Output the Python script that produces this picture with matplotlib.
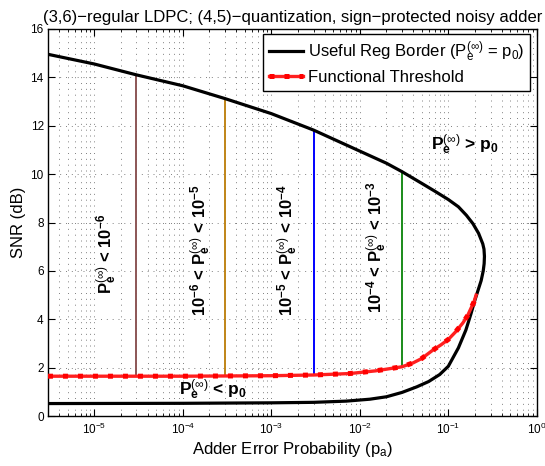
import matplotlib
matplotlib.use('Agg')
import matplotlib.pyplot as plt

plt.rcParams['font.family'] = ['Liberation Sans', 'DejaVu Sans']
plt.rcParams['mathtext.fontset'] = 'custom'
plt.rcParams['mathtext.rm'] = 'Liberation Sans'
plt.rcParams['mathtext.it'] = 'Liberation Sans:italic'
plt.rcParams['mathtext.bf'] = 'Liberation Sans:bold'

# useful region border: upper branch left -> right, then lower branch back to the left
border_pa = [3e-6, 1e-5, 3e-5, 1e-4, 3e-4, 1e-3, 3e-3, 1e-2, 2e-2, 3e-2, 5e-2, 7e-2,
             0.1, 0.13, 0.16, 0.19, 0.22, 0.245, 0.253, 0.256, 0.254,
             0.248, 0.235, 0.2, 0.18, 0.158, 0.13, 0.1, 0.08, 0.06, 0.044, 0.03, 0.02,
             0.013, 7e-3, 3e-3, 1e-3, 1e-4, 3e-6]
border_snr = [14.95, 14.55, 14.1, 13.65, 13.12, 12.5, 11.82, 10.95, 10.45, 10.1, 9.62, 9.3,
              8.95, 8.65, 8.3, 7.95, 7.55, 7.12, 6.9, 6.6, 6.3,
              6.0, 5.6, 4.8, 4.22, 3.56, 2.82, 2.06, 1.72, 1.43, 1.21, 0.98, 0.8,
              0.7, 0.62, 0.57, 0.55, 0.53, 0.52]

# functional threshold
thr_pa = [3e-6, 1e-4, 1e-3, 3e-3, 7.7e-3, 1.5e-2, 3e-2, 4e-2, 5e-2, 6.7e-2, 8.3e-2,
          0.1, 0.12, 0.146, 0.165, 0.18, 0.195, 0.206]
thr_snr = [1.65, 1.65, 1.67, 1.70, 1.76, 1.87, 2.04, 2.2, 2.38, 2.73, 2.95,
           3.17, 3.47, 3.85, 4.15, 4.45, 4.72, 5.0]

# vertical separators between the P_e regions
sep_pa = [3e-5, 3e-4, 3e-3, 3e-2]
sep_low = [1.65, 1.65, 1.70, 2.04]
sep_high = [14.1, 13.12, 11.82, 10.1]
sep_colors = ['#8c5656', '#c08518', '#0000ff', '#1a8c1a']

# region labels (rotated)
reg_labels = [r'$\mathbf{P}_\mathbf{e}^{(\infty)}$ < $\mathbf{10^{-6}}$',
              r'$\mathbf{10^{-6}}$ < $\mathbf{P}_\mathbf{e}^{(\infty)}$ < $\mathbf{10^{-5}}$',
              r'$\mathbf{10^{-5}}$ < $\mathbf{P}_\mathbf{e}^{(\infty)}$ < $\mathbf{10^{-4}}$',
              r'$\mathbf{10^{-4}}$ < $\mathbf{P}_\mathbf{e}^{(\infty)}$ < $\mathbf{10^{-3}}$']
reg_x = [1.4e-5, 1.6e-4, 1.55e-3, 1.55e-2]
reg_y = [6.7, 6.85, 6.85, 7.0]

fig = plt.figure(figsize=(5.45, 4.66), dpi=100)
ax = fig.add_axes([0.088, 0.107, 0.897, 0.831])

for x, lo, hi, c in zip(sep_pa, sep_low, sep_high, sep_colors):
    ax.plot([x, x], [lo, hi], color=c, lw=1.4, zorder=2)

border, = ax.plot(border_pa, border_snr, color='black', lw=2.3, zorder=3,
                  solid_joinstyle='round')
thr_line, = ax.plot(thr_pa, thr_snr, color='#ff2020', lw=2.4, zorder=4)
thr_sq, = ax.plot(thr_pa, thr_snr, color='red', lw=3.6, ls=(0, (1, 2.0)), zorder=4)

for t, x, y in zip(reg_labels, reg_x, reg_y):
    ax.text(x, y, t, rotation=90, ha='center', va='center', fontsize=12,
            fontweight='bold')
ax.text(0.155, 11.2, r'$\mathbf{P}_\mathbf{e}^{(\infty)}$ > $\mathbf{p_0}$',
        ha='center', va='center', fontsize=12.5, fontweight='bold')
ax.text(2.2e-4, 1.07, r'$\mathbf{P}_\mathbf{e}^{(\infty)}$ < $\mathbf{p_0}$',
        ha='center', va='center', fontsize=12.5, fontweight='bold')

ax.set_xscale('log')
ax.set_xlim(3e-6, 1)
ax.set_ylim(0, 16)
ax.set_yticks(range(0, 17, 2))
ax.set_xticks([1e-5, 1e-4, 1e-3, 1e-2, 1e-1, 1])

ax.grid(which='major', color='0.5', ls=(0, (1, 5)), lw=0.7)
ax.grid(which='minor', axis='x', color='0.5', ls=(0, (1, 5)), lw=0.7)
ax.set_axisbelow(True)

ax.tick_params(which='both', direction='in', top=True, right=True, labelsize=8.5)
ax.tick_params(which='major', length=5, pad=4)
ax.tick_params(which='minor', length=2.5)
ax.tick_params(axis='y', pad=3)
for s in ax.spines.values():
    s.set_linewidth(1.0)

ax.set_title('(3,6)\u2212regular LDPC; (4,5)\u2212quantization, sign\u2212protected noisy adder',
             fontsize=12, pad=5)
ax.set_xlabel(r'Adder Error Probability (p$_\mathregular{a}$)', fontsize=12, labelpad=2)
ax.set_ylabel('SNR (dB)', fontsize=12, labelpad=3)

leg = ax.legend([border, (thr_line, thr_sq)],
                [r'Useful Reg Border (P$_\mathregular{e}^{(\infty)}$ = p$_\mathregular{0}$)',
                 'Functional Threshold'],
                loc='upper right', bbox_to_anchor=(0.986, 0.987), borderaxespad=0,
                fontsize=12, handlelength=2.05, handletextpad=0.3,
                labelspacing=0.35, borderpad=0.35, fancybox=False, framealpha=1)
leg.get_frame().set_edgecolor('black')
leg.get_frame().set_linewidth(1.0)

plt.savefig('out.png', dpi=100)
